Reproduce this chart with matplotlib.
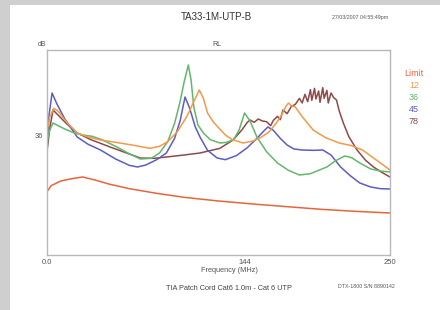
import matplotlib
matplotlib.use("Agg")
import matplotlib.pyplot as plt
from matplotlib.patches import Rectangle

plt.rcParams['font.family'] = ['Liberation Sans', 'DejaVu Sans']

# Return loss traces (frequency in MHz, RL in dB)
limit_f = [0, 3, 10, 18, 26, 35, 45, 60, 80, 100, 125, 150, 175, 200, 225, 250]
limit_db = [19.0, 20.8, 22.2, 22.9, 23.4, 22.5, 21.3, 19.9, 18.5, 17.3, 16.2, 15.3, 14.5, 13.7, 13.1, 12.6]

p12_f = [0, 2, 5, 8, 14, 22, 30, 39, 50, 62, 75, 82, 88, 95, 102, 107, 111, 114, 117, 121, 125, 130, 135,
         143, 150, 156, 162, 167, 171, 174, 176, 178, 181, 186, 194, 203, 213, 222, 230, 240, 250]
p12_db = [37.0, 41.4, 44.0, 43.2, 40.0, 36.6, 35.4, 34.5, 33.8, 33.0, 32.0, 32.6, 34.0, 37.0, 41.6, 46.0, 49.5,
          47.0, 42.6, 40.0, 38.2, 36.0, 34.6, 33.6, 34.2, 35.3, 37.0, 39.5, 42.0, 44.5, 45.6, 44.8, 44.4,
          41.5, 37.5, 35.2, 33.6, 32.8, 31.5, 28.5, 25.5]

p36_f = [0, 2, 4.4, 8, 14, 20, 26, 33, 40, 46, 51, 58, 68, 76, 82, 88, 93, 97, 100, 103, 105, 107, 110, 114,
         119, 126, 131, 136, 140, 144, 148, 153, 160, 168, 176, 184, 192, 198, 204, 210, 217, 222, 228, 236, 243, 250]
p36_db = [34.0, 37.5, 39.6, 38.8, 37.6, 36.6, 36.0, 35.6, 34.6, 33.4, 32.4, 30.8, 28.8, 29.0, 30.6, 34.0, 39.5,
          46.0, 52.0, 57.0, 52.5, 44.4, 39.0, 36.6, 34.6, 33.6, 33.8, 34.6, 37.5, 42.6, 40.2, 35.4, 31.0,
          27.6, 25.4, 24.0, 24.4, 25.4, 26.4, 28.2, 29.7, 29.2, 27.6, 25.8, 25.2, 24.9]

p45_f = [0, 1.5, 3.7, 7, 13, 22, 30, 39, 50, 60, 66, 72, 80, 87, 93, 97, 100.6, 104, 108, 111.5, 117, 124,
         130, 138, 146, 153, 158, 161, 165, 170, 175, 180, 186, 194, 201, 207, 214, 221, 228, 236, 243, 250]
p45_db = [32.4, 42.0, 48.6, 45.5, 40.8, 35.4, 33.2, 31.5, 28.8, 26.9, 26.4, 27.0, 28.6, 30.6, 35.0, 40.2, 47.4,
          44.0, 38.5, 35.4, 31.4, 29.1, 28.6, 29.8, 32.2, 35.0, 37.2, 38.4, 37.4, 35.0, 33.0, 31.8, 31.5,
          31.4, 31.5, 30.0, 26.4, 23.8, 21.6, 20.4, 19.9, 19.8]

p78_f = [0, 2, 4.4, 8, 14, 22, 32, 46, 58, 68, 78, 87, 100, 111.5, 126, 135.6, 142, 146, 148, 151, 154, 157,
         160, 163, 165, 168, 170, 172, 175, 178, 181, 184, 186, 188, 190, 192, 193, 195, 196, 198, 199, 201,
         202, 204, 205, 207, 209, 211, 213, 216, 220, 226, 232, 238, 244, 250]
p78_db = [31.0, 38.0, 43.5, 42.0, 39.5, 36.6, 34.6, 32.4, 30.6, 29.1, 29.0, 29.4, 30.0, 30.6, 32.0, 34.5, 37.5,
          39.8, 40.5, 39.8, 40.8, 40.2, 40.0, 38.8, 40.4, 41.6, 40.6, 43.5, 42.4, 44.5, 45.2, 47.0, 45.6,
          48.2, 46.0, 49.6, 46.4, 50.0, 46.8, 49.2, 45.8, 50.2, 47.0, 49.4, 45.6, 48.6, 47.2, 46.5, 43.2,
          39.6, 35.5, 31.5, 28.5, 26.4, 24.8, 23.4]

series = [
    ("Limit", limit_f, limit_db, "#e8643c"),
    ("12", p12_f, p12_db, "#f29a48"),
    ("36", p36_f, p36_db, "#62b86a"),
    ("45", p45_f, p45_db, "#5c5cc4"),
    ("78", p78_f, p78_db, "#8e4a4a"),
]

fig = plt.figure(figsize=(4.4, 3.1), dpi=100)
fig.patch.set_facecolor("white")
fig.patches.append(Rectangle((0, 0), 10 / 440, 1, transform=fig.transFigure,
                             facecolor="#cfcfcf", edgecolor="none", zorder=0))
fig.patches.append(Rectangle((0, 1 - 5 / 310), 1, 5 / 310, transform=fig.transFigure,
                             facecolor="#cfcfcf", edgecolor="none", zorder=0))

ax = fig.add_axes([47 / 440, 55 / 310, 343 / 440, 205 / 310])
for name, f, db, c in series[::-1]:
    ax.plot(f, db, color=c, linewidth=1.1)

ax.set_xlim(0, 250)
ax.set_ylim(0, 61.5)
ax.set_xticks([0, 144, 250])
ax.set_xticklabels(["0.0", "144", "250"])
ax.set_yticks([36])
ax.set_yticklabels(["36"])
ax.tick_params(length=0, labelsize=5.5, colors="#555555", pad=3)
for s in ax.spines.values():
    s.set_color("#b8b8b8")
    s.set_linewidth(1.0)

fig.text(216 / 440, 1 - 17 / 310, "TA33-1M-UTP-B", ha="center", va="center", fontsize=7, color="#333333")
fig.text(360 / 440, 1 - 18 / 310, "27/03/2007 04:55:49pm", ha="center", va="center", fontsize=3.8, color="#555555")
fig.text(42 / 440, 1 - 44 / 310, "dB", ha="center", va="center", fontsize=5, color="#555555")
fig.text(217 / 440, 1 - 44 / 310, "RL", ha="center", va="center", fontsize=5, color="#555555")
fig.text(229 / 440, 1 - 271 / 310, "Frequency (MHz)", ha="center", va="center", fontsize=5.3, color="#555555")
fig.text(229 / 440, 1 - 289 / 310, "TIA Patch Cord Cat6 1.0m - Cat 6 UTP", ha="center", va="center",
         fontsize=5.3, color="#444444")
fig.text(366 / 440, 1 - 287 / 310, "DTX-1800 S/N 8890142", ha="center", va="center", fontsize=3.8, color="#555555")

for i, (name, f, db, c) in enumerate(series):
    fig.text(414 / 440, 1 - (73 + i * 12) / 310, name, ha="center", va="center",
             fontsize=6.5, color=c)

fig.savefig("out.png", dpi=100)
